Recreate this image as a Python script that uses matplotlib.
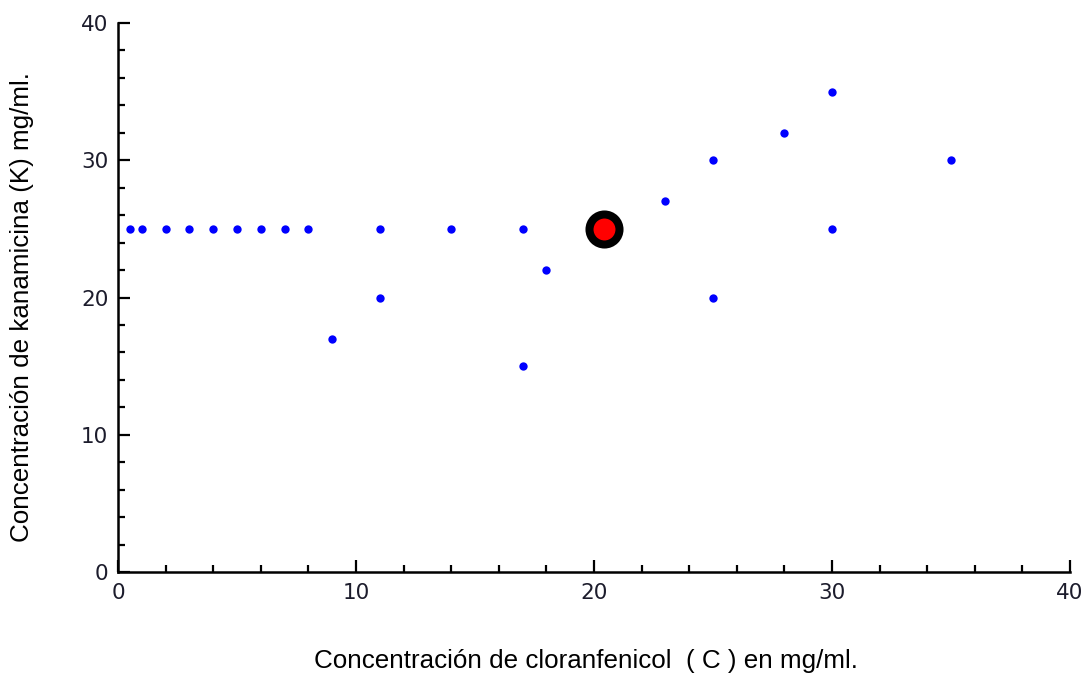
import numpy as np
import matplotlib.pyplot as plt
from matplotlib.ticker import MultipleLocator

# cloranfenicol (C) vs kanamicina (K), both in mg/ml
cloranfenicol = [0.5, 1, 2, 3, 4, 5, 6, 7, 8, 9, 11, 11, 14, 17, 17, 18,
                 23, 25, 25, 28, 30, 30, 35]
kanamicina = [25, 25, 25, 25, 25, 25, 25, 25, 25, 17, 25, 20, 25, 25, 15, 22,
              27, 30, 20, 32, 35, 25, 30]

# highlighted point
punto_c = [20.4]
punto_k = [25]

x_ticks = [0, 10, 20, 30, 40]
y_ticks = [0, 10, 20, 30, 40]

fig = plt.figure(figsize=(10.86, 6.75), dpi=100)
ax = fig.add_axes([0.1087, 0.1526, 0.8766, 0.8133])

ax.plot(cloranfenicol, kanamicina, 'o', color='#0000ff', ms=6, mew=0,
        clip_on=False, zorder=3)
ax.plot(punto_c, punto_k, 'o', ms=21.6, mfc='#ff0000', mec='black',
        mew=5.8, clip_on=False, zorder=4)

ax.set_xlim(0, 40)
ax.set_ylim(0, 40)
ax.set_xticks(x_ticks)
ax.set_yticks(y_ticks)
ax.xaxis.set_minor_locator(MultipleLocator(2))
ax.yaxis.set_minor_locator(MultipleLocator(2))

for side in ('top', 'right'):
    ax.spines[side].set_visible(False)
for side in ('left', 'bottom'):
    ax.spines[side].set_linewidth(1.8)

tick_color = '#1c1c2c'
ax.tick_params(which='major', direction='in', length=8.8, width=1.6,
               labelsize=15.5, labelcolor=tick_color, pad=8)
ax.tick_params(which='minor', direction='in', length=5.2, width=1.6)
ax.tick_params(axis='y', which='major', pad=7)
for lbl in ax.get_xticklabels() + ax.get_yticklabels():
    lbl.set_family('DejaVu Sans')

ax.set_xlabel('Concentración de cloranfenicol  ( C ) en mg/ml.',
              fontsize=18.7, family='Liberation Sans', va='center')
ax.set_ylabel('Concentración de kanamicina (K) mg/ml.',
              fontsize=18.7, family='Liberation Sans', va='center')
ax.xaxis.set_label_coords(0.491, -0.162)
ax.yaxis.set_label_coords(-0.1008, 0.482)

fig.savefig('out.png', dpi=100)
